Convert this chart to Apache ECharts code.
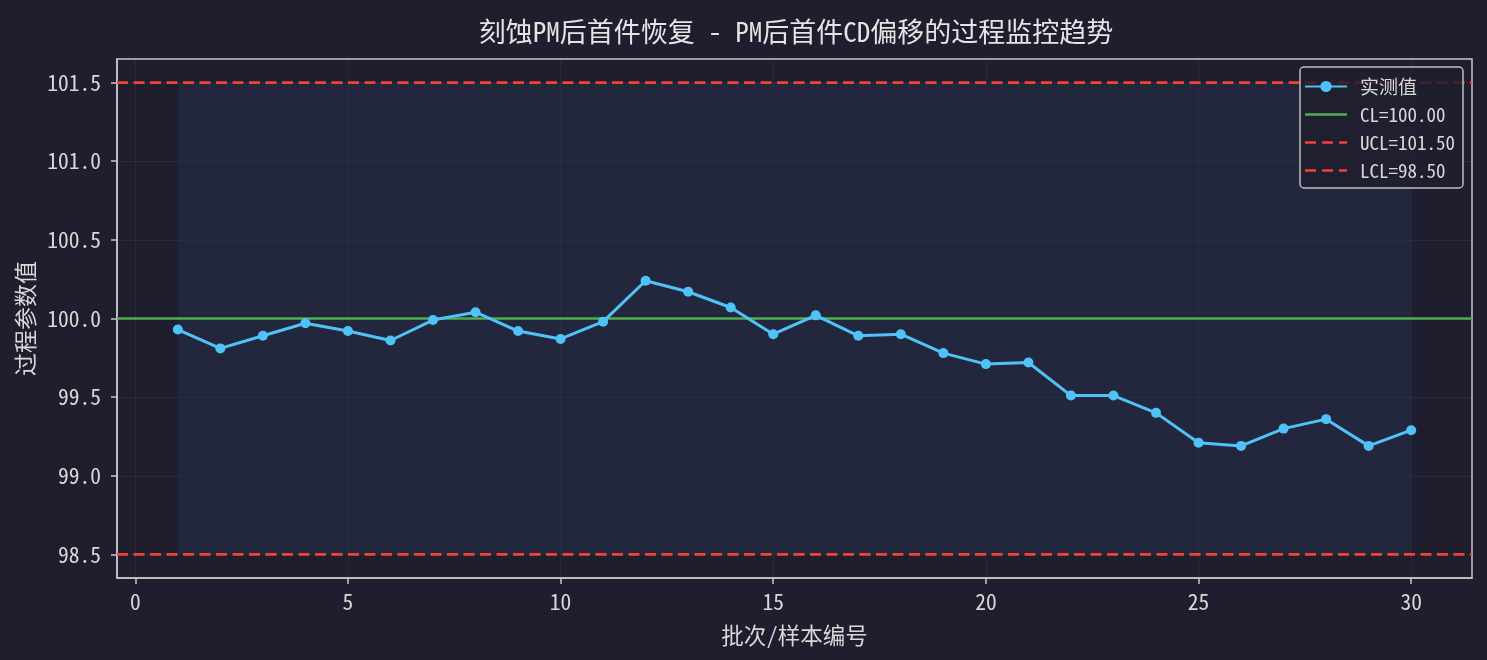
<!DOCTYPE html>
<html>
<head>
<meta charset="utf-8">
<script src="https://cdn.jsdelivr.net/npm/echarts@6/dist/echarts.min.js"></script>
<style>
  html, body { margin: 0; padding: 0; background: #1f1e2e; }
  #chart { width: 1487px; height: 660px; }
</style>
</head>
<body>
<div id="chart"></div>
<script>
// sample numbers and measured values
const batches = [1, 2, 3, 4, 5, 6, 7, 8, 9, 10, 11, 12, 13, 14, 15, 16, 17, 18, 19, 20, 21, 22, 23, 24, 25, 26, 27, 28, 29, 30];
const measured = [99.93, 99.81, 99.89, 99.97, 99.92, 99.86, 99.99, 100.04, 99.92, 99.87,
    99.98, 100.24, 100.17, 100.07, 99.90, 100.02, 99.89, 99.90, 99.78, 99.71,
    99.72, 99.51, 99.51, 99.40, 99.21, 99.19, 99.30, 99.36, 99.19, 99.29];
const CL = 100.0;
const UCL = 101.5;
const LCL = 98.5;
const xLimits = [-0.43, 31.43];
const yLimits = [98.35, 101.65];
const xTicks = [0, 5, 10, 15, 20, 25, 30];
const yTicks = [98.5, 99.0, 99.5, 100.0, 100.5, 101.0, 101.5];

const FONT = '"Noto Sans Mono CJK SC", "DejaVu Sans Mono", "Noto Sans CJK SC", monospace';
const TEXT = '#d8d8d8';
const AXIS = '#c8c8c8';
const GRID = 'rgba(255,255,255,0.05)';

// legend icons for the limit lines (solid / dashed stroke)
const SOLID_ICON = 'path://M0,0h42v2.4h-42z';
const DASH_ICON = 'path://M0,0h11v2.6h-11z M17,0h11v2.6h-11z M34,0h8v2.6h-8z';

// flat limit line across the whole x range
const hline = y => xLimits.map(x => [x, y]);

const chart = echarts.init(document.getElementById('chart'));

chart.setOption({
    backgroundColor: '#1f1e2e',
    textStyle: { fontFamily: FONT },
    title: {
        text: '刻蚀PM后首件恢复 - PM后首件CD偏移的过程监控趋势',
        left: 791,
        textAlign: 'center',
        top: 13,
        textStyle: { color: '#e4e4e4', fontSize: 27, fontWeight: 'normal', fontFamily: FONT }
    },
    grid: {
        left: 117, right: 15, top: 59, bottom: 82,
        show: true,
        borderColor: AXIS,
        borderWidth: 1.5,
        backgroundColor: 'transparent'
    },
    legend: {
        orient: 'vertical',
        right: 24,
        top: 67,
        itemWidth: 42,
        itemHeight: 14,
        itemGap: 9,
        padding: [10, 8, 8, 4],
        backgroundColor: 'rgba(31,30,46,0.85)',
        borderColor: '#bdbdbd',
        borderWidth: 1.5,
        borderRadius: 4,
        textStyle: { color: TEXT, fontSize: 19, fontFamily: FONT, padding: [0, 0, 0, 8] },
        data: [
            { name: '实测值' },
            { name: 'CL=100.00', icon: SOLID_ICON },
            { name: 'UCL=101.50', icon: DASH_ICON },
            { name: 'LCL=98.50', icon: DASH_ICON }
        ]
    },
    xAxis: {
        type: 'value',
        min: xLimits[0],
        max: xLimits[1],
        name: '批次/样本编号',
        nameLocation: 'middle',
        nameGap: 46,
        nameTextStyle: { color: TEXT, fontSize: 22.5, fontFamily: FONT },
        axisLine: { show: true, onZero: false, lineStyle: { color: AXIS, width: 1.5 } },
        axisTick: { show: true, length: 6, customValues: xTicks, lineStyle: { color: AXIS, width: 1.5 } },
        axisLabel: { color: TEXT, fontSize: 21.5, margin: 13, customValues: xTicks, fontFamily: FONT },
        splitLine: { show: true, lineStyle: { color: GRID, width: 1 } }
    },
    yAxis: {
        type: 'value',
        min: yLimits[0],
        max: yLimits[1],
        name: '过程参数值',
        nameLocation: 'middle',
        nameGap: 75,
        nameTextStyle: { color: TEXT, fontSize: 23, fontFamily: FONT },
        axisLine: { show: true, onZero: false, lineStyle: { color: AXIS, width: 1.5 } },
        axisTick: { show: true, length: 6, customValues: yTicks, lineStyle: { color: AXIS, width: 1.5 } },
        axisLabel: {
            color: TEXT, fontSize: 21.5, margin: 16, customValues: yTicks, fontFamily: FONT,
            formatter: v => v.toFixed(1)
        },
        splitLine: { show: true, lineStyle: { color: GRID, width: 1 } }
    },
    series: [
        {
            name: '实测值',
            type: 'line',
            data: batches.map((b, i) => [b, measured[i]]),
            symbol: 'circle',
            symbolSize: 10,
            z: 5,
            itemStyle: { color: '#4fc3f7' },
            lineStyle: { color: '#4fc3f7', width: 3 },
            markArea: {
                silent: true,
                itemStyle: { color: 'rgba(40,52,80,0.45)' },
                data: [[
                    { xAxis: batches[0], yAxis: LCL },
                    { xAxis: batches[batches.length - 1], yAxis: UCL }
                ]]
            }
        },
        {
            name: 'CL=100.00',
            type: 'line',
            data: hline(CL),
            symbol: 'none',
            z: 3,
            itemStyle: { color: '#4caf50' },
            lineStyle: { color: '#4caf50', width: 2.4 }
        },
        {
            name: 'UCL=101.50',
            type: 'line',
            data: hline(UCL),
            symbol: 'none',
            z: 3,
            itemStyle: { color: '#f44336' },
            lineStyle: { color: '#f44336', width: 2.7, type: [11, 5.5] }
        },
        {
            name: 'LCL=98.50',
            type: 'line',
            data: hline(LCL),
            symbol: 'none',
            z: 3,
            itemStyle: { color: '#f44336' },
            lineStyle: { color: '#f44336', width: 2.7, type: [11, 5.5] }
        }
    ]
});
</script>
</body>
</html>
